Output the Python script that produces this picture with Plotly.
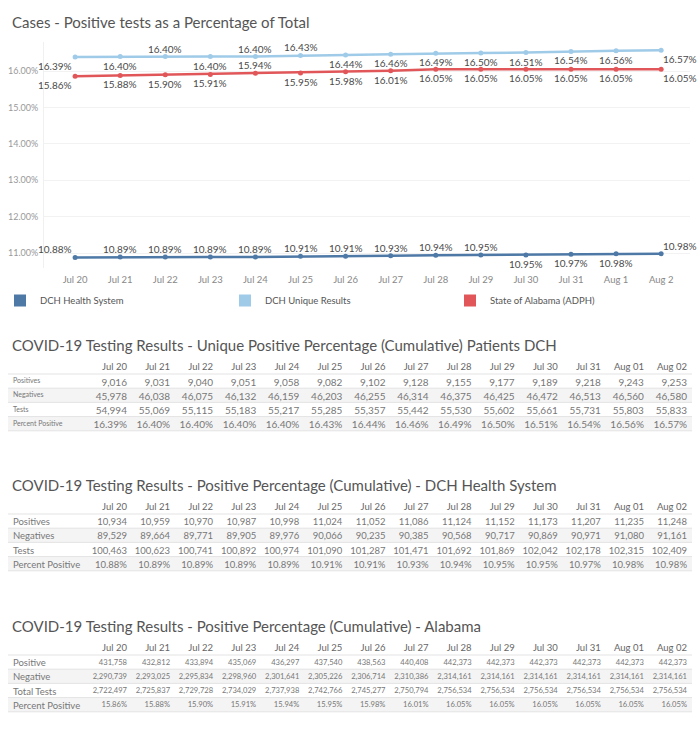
import plotly.graph_objects as go

W, H = 700, 747
FONT = "Lato"

chart_dates = ["Jul 20", "Jul 21", "Jul 22", "Jul 23", "Jul 24", "Jul 25", "Jul 26",
               "Jul 27", "Jul 28", "Jul 29", "Jul 30", "Jul 31", "Aug 1", "Aug 2"]
table_dates = ["Jul 20", "Jul 21", "Jul 22", "Jul 23", "Jul 24", "Jul 25", "Jul 26",
               "Jul 27", "Jul 28", "Jul 29", "Jul 30", "Jul 31", "Aug 01", "Aug 02"]

unique_pct = [16.39, 16.40, 16.40, 16.40, 16.40, 16.43, 16.44, 16.46, 16.49, 16.50, 16.51, 16.54, 16.56, 16.57]
dch_pct = [10.88, 10.89, 10.89, 10.89, 10.89, 10.91, 10.91, 10.93, 10.94, 10.95, 10.95, 10.97, 10.98, 10.98]
al_pct = [15.86, 15.88, 15.90, 15.91, 15.94, 15.95, 15.98, 16.01, 16.05, 16.05, 16.05, 16.05, 16.05, 16.05]

unique_pos = [9016, 9031, 9040, 9051, 9058, 9082, 9102, 9128, 9155, 9177, 9189, 9218, 9243, 9253]
unique_neg = [45978, 46038, 46075, 46132, 46159, 46203, 46255, 46314, 46375, 46425, 46472, 46513, 46560, 46580]
unique_tests = [54994, 55069, 55115, 55183, 55217, 55285, 55357, 55442, 55530, 55602, 55661, 55731, 55803, 55833]

dch_pos = [10934, 10959, 10970, 10987, 10998, 11024, 11052, 11086, 11124, 11152, 11173, 11207, 11235, 11248]
dch_neg = [89529, 89664, 89771, 89905, 89976, 90066, 90235, 90385, 90568, 90717, 90869, 90971, 91080, 91161]
dch_tests = [100463, 100623, 100741, 100892, 100974, 101090, 101287, 101471, 101692, 101869, 102042, 102178, 102315, 102409]

al_pos = [431758, 432812, 433894, 435069, 436297, 437540, 438563, 440408, 442373, 442373, 442373, 442373, 442373, 442373]
al_neg = [2290739, 2293025, 2295834, 2298960, 2301641, 2305226, 2306714, 2310386, 2314161, 2314161, 2314161, 2314161, 2314161, 2314161]
al_tests = [2722497, 2725837, 2729728, 2734029, 2737938, 2742766, 2745277, 2750794, 2756534, 2756534, 2756534, 2756534, 2756534, 2756534]

# label placement (t=above, b=below)
unique_lab = ["b", "b", "t", "b", "t", "t", "b", "b", "b", "b", "b", "b", "b", "b"]
al_lab = ["b", "b", "b", "b", "t", "b", "b", "b", "b", "b", "b", "b", "b", "b"]
dch_lab = ["t", "t", "t", "t", "t", "t", "t", "t", "t", "t", "b", "b", "b", "t"]

C_DCH = "#4e79a7"
C_UNI = "#a0cbe8"
C_AL = "#e15759"


def py(px):
    return 1 - px / H


xs = list(range(len(chart_dates)))
fig = go.Figure()
for name, vals, col, labs in [("DCH Unique Results", unique_pct, C_UNI, unique_lab),
                              ("State of Alabama (ADPH)", al_pct, C_AL, al_lab),
                              ("DCH Health System", dch_pct, C_DCH, dch_lab)]:
    fig.add_trace(go.Scatter(
        x=xs, y=vals, mode="lines+markers", name=name, showlegend=False,
        line=dict(color=col, width=2.5), marker=dict(color=col, size=5),
        hovertemplate="%{y:.2f}%<extra>" + name + "</extra>"))
    n = len(vals)
    for i, (v, l) in enumerate(zip(vals, labs)):
        xa = "right" if i == 0 else ("left" if i == n - 1 else "center")
        fig.add_annotation(x=xs[i], y=v, xref="x", yref="y", text=f"{v:.2f}%",
                           showarrow=False, xanchor=xa,
                           yanchor="bottom" if l == "t" else "top",
                           yshift=0 if l == "t" else -1,
                           xshift=-1 if i == 0 else 0,
                           font=dict(family=FONT, size=10, color="#4a4a4a"))

for name, col in [("DCH Health System", C_DCH), ("DCH Unique Results", C_UNI),
                  ("State of Alabama (ADPH)", C_AL)]:
    fig.add_trace(go.Scatter(x=[None], y=[None], mode="markers", name=name,
                             marker=dict(symbol="square", size=11, color=col)))

fig.update_layout(
    width=W, height=H, margin=dict(l=0, r=0, t=0, b=0),
    paper_bgcolor="white", plot_bgcolor="white",
    font=dict(family=FONT, color="#666"),
    xaxis=dict(domain=[44 / W, 690 / W], range=[-0.69, 13.64], tickmode="array",
               tickvals=xs, ticktext=chart_dates, showgrid=False, zeroline=False,
               showline=False, ticks="", ticklabelstandoff=4,
               tickfont=dict(size=9.5, color="#888")),
    yaxis=dict(domain=[py(268), py(42)], range=[10.59, 16.80], tickvals=[11, 12, 13, 14, 15, 16],
               ticktext=["11.00%", "12.00%", "13.00%", "14.00%", "15.00%", "16.00%"],
               showgrid=True, gridcolor="#f2f2f2", zeroline=False, showline=True,
               linecolor="#f0f0f0", ticks="", ticklabelstandoff=3,
               tickfont=dict(size=9, color="#999")),
    legend=dict(orientation="h", x=0, y=py(286), xanchor="left", yanchor="top",
                entrywidth=180, entrywidthmode="pixels",
                font=dict(size=9.5, color="#555"), itemsizing="constant"),
)

titles = [("Cases - Positive tests as a Percentage of Total", 22),
          ("COVID-19 Testing Results - Unique Positive Percentage (Cumulative) Patients DCH", 345),
          ("COVID-19 Testing Results - Positive Percentage (Cumulative) - DCH Health System", 485),
          ("COVID-19 Testing Results - Positive Percentage (Cumulative) - Alabama", 626)]
for t, y in titles:
    fig.add_annotation(text=t, xref="paper", yref="paper", x=10 / W, y=py(y),
                       xanchor="left", yanchor="middle", showarrow=False,
                       font=dict(family=FONT, size=15, color="#555"))


def fmt(v):
    return f"{v:,}"


HEAD_H = 15
ROW_H = 14.2
TX0, TX1 = 5, 695


def add_table(labels, rows, pct, top, label_size, val_size):
    nd = len(table_dates)
    cols = [labels] + [[fmt(r[i]) for r in rows] + [f"{pct[i]:.2f}%"] for i in range(nd)]
    # row banding and separators behind the (transparent) table
    row0 = top + HEAD_H
    for r in range(len(labels)):
        y0 = row0 + r * ROW_H
        if r % 2 == 1:
            fig.add_shape(type="rect", xref="paper", yref="paper", layer="below",
                          x0=8 / W, x1=692 / W, y0=py(y0 + ROW_H), y1=py(y0),
                          fillcolor="#f4f4f4", line=dict(width=0))
    for r in range(len(labels) + 1):
        y0 = row0 + r * ROW_H
        fig.add_shape(type="line", xref="paper", yref="paper", layer="below",
                      x0=8 / W, x1=692 / W, y0=py(y0), y1=py(y0),
                      line=dict(color="#e3e3e3", width=1))
    fig.add_trace(go.Table(
        domain=dict(x=[TX0 / W, TX1 / W], y=[py(top + 80), py(top - 4)]),
        columnwidth=[86.9] + [43.08] * nd,
        header=dict(values=[""] + [d.replace(" ", "\u00a0") for d in table_dates],
                    align=["left"] + ["right"] * nd,
                    height=HEAD_H, fill=dict(color="rgba(0,0,0,0)"),
                    line=dict(color="rgba(0,0,0,0)", width=0),
                    font=dict(family=FONT, size=9.5, color="#666")),
        cells=dict(values=cols, align=["left"] + ["right"] * nd, height=ROW_H,
                   fill=dict(color="rgba(0,0,0,0)"),
                   line=dict(color="rgba(0,0,0,0)", width=0),
                   font=dict(family=FONT, size=[label_size] + [val_size] * nd,
                             color="#777"))))


add_table(["Positives", "Negatives", "Tests", "Percent Positive"],
          [unique_pos, unique_neg, unique_tests], unique_pct, 359, 7, 10)
add_table(["Positives", "Negatives", "Tests", "Percent Positive"],
          [dch_pos, dch_neg, dch_tests], dch_pct, 499, 9.5, 9.5)
add_table(["Positive", "Negative", "Total Tests", "Percent Positive"],
          [al_pos, al_neg, al_tests], al_pct, 640, 9.5, 7.6)

fig.write_html("out.html", config={"displayModeBar": False},
               post_script="document.body.style.margin='0px';")
